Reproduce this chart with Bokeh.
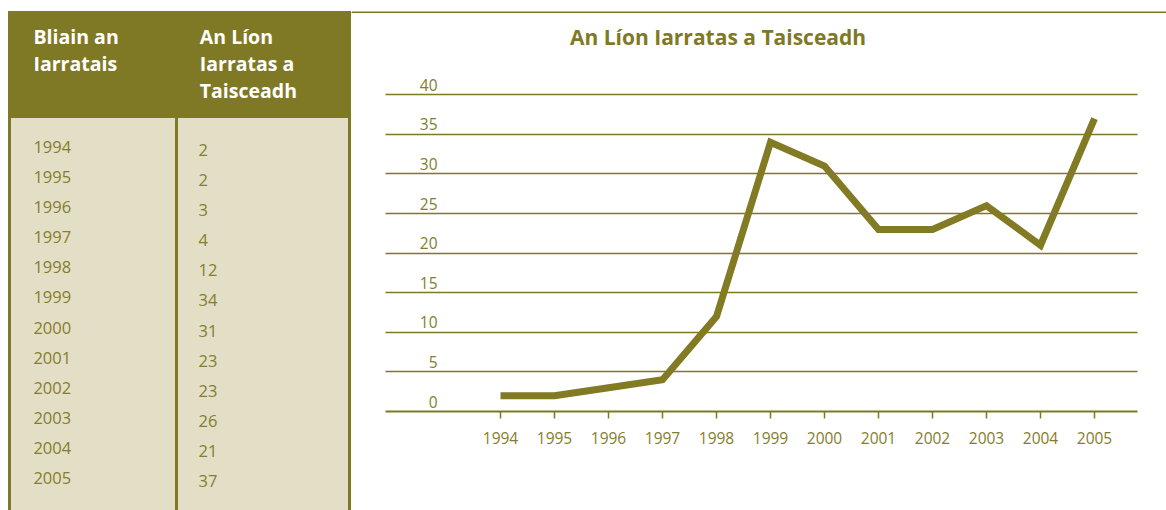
from bokeh.plotting import figure
from bokeh.models import Range1d, FixedTicker, Span, ColumnDataSource, Div
from bokeh.layouts import row
from bokeh.core.properties import value
from bokeh.embed import file_html
from bokeh.resources import INLINE

# ---------------- data ----------------
YEARS = [1994, 1995, 1996, 1997, 1998, 1999, 2000, 2001, 2002, 2003, 2004, 2005]
APPLICATIONS = [2, 2, 3, 4, 12, 34, 31, 23, 23, 26, 21, 37]
Y_TICKS = [0, 5, 10, 15, 20, 25, 30, 35, 40]
HEAD_COL1 = ["Bliain an", "Iarratais"]
HEAD_COL2 = ["An Líon", "Iarratas a", "Taisceadh"]
TITLE = "An Líon Iarratas a Taisceadh"

# ---------------- style ----------------
OLIVE = "#7f7925"
LINE = "#837a24"
TEXT = "#857d2e"
BEIGE = "#e3dfc6"
FONT = "Open Sans"
H = 510

# ================= table (HTML) =================
TW = 351


def box(left, top, w, h, color):
    return (f'<div style="position:absolute;left:{left}px;top:{top}px;width:{w}px;'
            f'height:{h}px;background:{color};"></div>')


def txt(left, top, lines, size, lh, color, weight):
    return (f'<div style="position:absolute;left:{left}px;top:{top}px;'
            f"font-family:'{FONT}';font-size:{size}px;line-height:{lh}px;color:{color};"
            f'font-weight:{weight};white-space:nowrap;margin:0;padding:0;">'
            + "<br>".join(lines) + "</div>")


parts = [
    box(7.5, 11, TW - 7.5, H - 11, OLIVE),
    box(11, 117.7, 163.6, H, BEIGE),
    box(177.6, 117.7, 170.8, H, BEIGE),
    txt(33.5, 23.2, HEAD_COL1, 19.5, 27, "white", 700),
    txt(199.8, 23.2, HEAD_COL2, 19.5, 27, "white", 700),
    txt(33.4, 132.0, [str(y) for y in YEARS], 16.5, 30.1, TEXT, 400),
    txt(198.6, 135.0, [str(v) for v in APPLICATIONS], 16.5, 30.1, TEXT, 400),
]
table_html = (f'<div style="position:relative;width:{TW}px;height:{H}px;overflow:hidden;'
              f'margin:0;padding:0;">' + "".join(parts) + "</div>")
table = Div(text=table_html, width=TW, height=H, margin=0)

# ================= chart figure =================
CW = 1166 - TW
FRAME_H = 411                # frame spans canvas y 0..FRAME_H
MB = H - FRAME_H             # bottom border for axis
PX_X = 54.0                  # px per year
X0_PX = 149.0                # canvas x of first year
PX_Y = (FRAME_H - 94.3) / 40.0
x_start = YEARS[0] - X0_PX / PX_X
x_end = x_start + CW / PX_X
y_end = FRAME_H / PX_Y


def xdata(px):
    return x_start + px / PX_X


def ydata(py):
    return (FRAME_H - py) / PX_Y


c = figure(width=CW, height=H, x_range=Range1d(x_start, x_end), y_range=Range1d(0, y_end),
           toolbar_location=None, output_backend="svg",
           min_border_left=0, min_border_right=0, min_border_top=0, min_border_bottom=MB,
           outline_line_color=None, margin=0)

c.yaxis.visible = False
c.xgrid.visible = False
c.ygrid.ticker = FixedTicker(ticks=Y_TICKS)
c.ygrid.grid_line_color = OLIVE
c.ygrid.grid_line_width = 1.4
c.ygrid.cross_bounds = (xdata(34), xdata(786))

ax = c.xaxis[0]
ax.ticker = FixedTicker(ticks=YEARS)
ax.bounds = (xdata(34), xdata(786))
ax.axis_line_color = OLIVE
ax.axis_line_width = 2
ax.major_tick_line_color = OLIVE
ax.major_tick_line_width = 1.5
ax.major_tick_in = 0
ax.major_tick_out = 7
ax.minor_tick_line_color = None
ax.major_label_text_font = FONT
ax.major_label_text_font_size = "15.5px"
ax.major_label_text_color = TEXT
ax.major_label_standoff = 13

# top frame line
c.add_layout(Span(location=ydata(11.7), dimension="width", line_color=OLIVE, line_width=1.5))

src = ColumnDataSource(dict(year=YEARS, n=APPLICATIONS))
c.line("year", "n", source=src, line_width=7, line_color=LINE, line_join="miter")

# y tick labels drawn inside the frame, above each grid line
c.text(x=[xdata(86)] * len(Y_TICKS), y=Y_TICKS, text=[str(v) for v in Y_TICKS],
       text_font=value(FONT), text_font_size=value("15.5px"), text_color=TEXT,
       text_align="right", text_baseline="middle", y_offset=-10)

# title
c.text(x=[xdata(366.5)], y=[ydata(36.3)], text=[TITLE], text_font=value(FONT),
       text_font_style="bold", text_font_size=value("21px"), text_color=OLIVE,
       text_align="center", text_baseline="middle")

layout = row(table, c, spacing=0)
open("out.html", "w").write(file_html(layout, INLINE))
